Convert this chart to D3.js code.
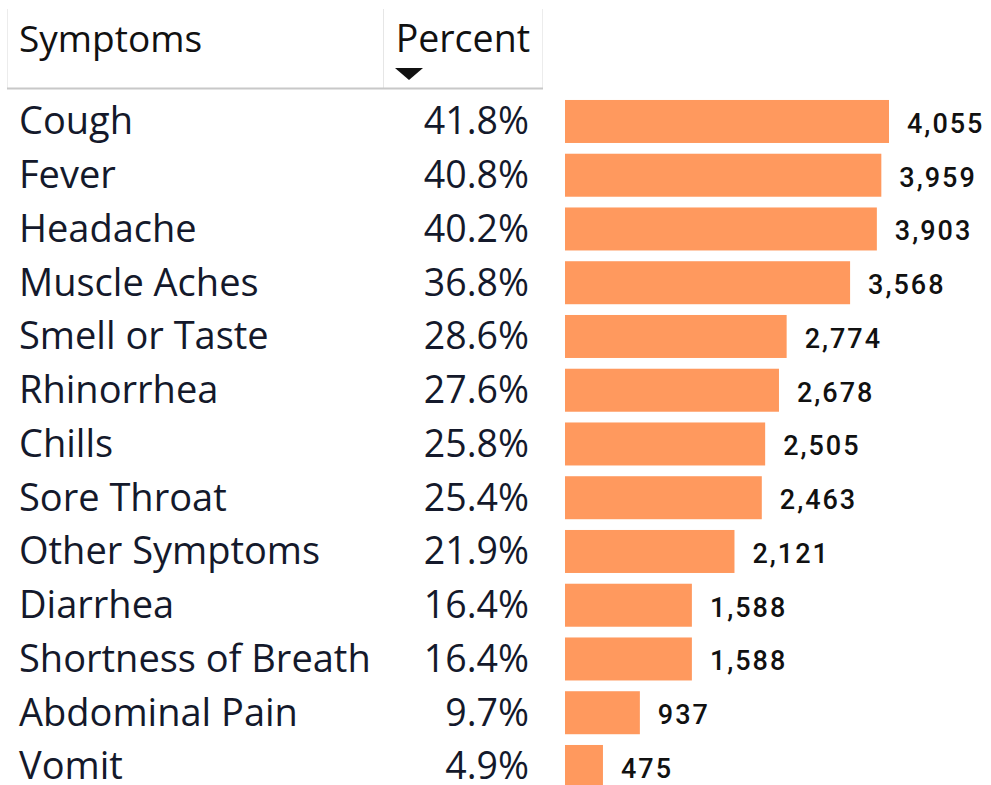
<!DOCTYPE html>
<html><head><meta charset="utf-8">
<script src="https://cdn.jsdelivr.net/npm/d3@7"></script>
<style>body{margin:0;background:#fff;}</style>
</head><body>
<script>
const symptoms = ["Cough","Fever","Headache","Muscle Aches","Smell or Taste","Rhinorrhea","Chills","Sore Throat","Other Symptoms","Diarrhea","Shortness of Breath","Abdominal Pain","Vomit"];
const percents = [41.8,40.8,40.2,36.8,28.6,27.6,25.8,25.4,21.9,16.4,16.4,9.7,4.9];
const counts = [4055,3959,3903,3568,2774,2678,2505,2463,2121,1588,1588,937,475];
const headers = ["Symptoms","Percent"];

const W = 991, H = 785;
const svg = d3.select("body").append("svg").attr("width",W).attr("height",H);
const textFont = "'Open Sans','Noto Sans',sans-serif";
const textColor = "#14192b";

// header
svg.append("line").attr("x1",7.5).attr("x2",7.5).attr("y1",9).attr("y2",89).attr("stroke","#ececec");
svg.append("line").attr("x1",542.5).attr("x2",542.5).attr("y1",9).attr("y2",89).attr("stroke","#ececec");
svg.append("line").attr("x1",383.5).attr("x2",383.5).attr("y1",9).attr("y2",89).attr("stroke","#e6e6e6");
svg.append("line").attr("x1",7).attr("x2",543).attr("y1",88.5).attr("y2",88.5).attr("stroke","#c8c8c8").attr("stroke-width",2);
svg.append("text").attr("x",19).attr("y",52).attr("font-family",textFont).attr("font-size",37).attr("fill","#111").text(headers[0]);
svg.append("text").attr("x",530).attr("y",52).attr("text-anchor","end").attr("font-family",textFont).attr("font-size",37.5).attr("fill","#111").text(headers[1]);
svg.append("path").attr("d","M395,68 L423,68 L409,80 Z").attr("fill","#111");

const y = d3.scaleBand().domain(symptoms).range([94.6, 94.6+13*53.75]).paddingInner(0.2).paddingOuter(0.1);
const x = d3.scaleLinear().domain([0, d3.max(counts)]).range([565, 889]);

const rows = svg.append("g").selectAll("g").data(symptoms).join("g");
rows.append("text").attr("x",19).attr("y",(d)=>y(d)+y.bandwidth()/2+13)
  .attr("font-family",textFont).attr("font-size",38).attr("fill",textColor).text(d=>d);
rows.append("text").attr("x",529).attr("y",(d)=>y(d)+y.bandwidth()/2+13).attr("text-anchor","end")
  .attr("font-family",textFont).attr("font-size",37.5).attr("fill",textColor).text((d,i)=>percents[i].toFixed(1)+"%");
rows.append("rect").attr("x",x(0)).attr("y",d=>y(d)).attr("height",y.bandwidth())
  .attr("width",(d,i)=>x(counts[i])-x(0)).attr("fill","#FF995E");
rows.append("text").attr("x",(d,i)=>x(counts[i])+18).attr("y",d=>y(d)+y.bandwidth()/2+11.5)
  .attr("font-family","Roboto,'DejaVu Sans',sans-serif").attr("font-weight",500)
  .attr("font-size",27).attr("letter-spacing",2).attr("fill","#111")
  .text((d,i)=>d3.format(",")(counts[i]));
</script>
</body></html>
